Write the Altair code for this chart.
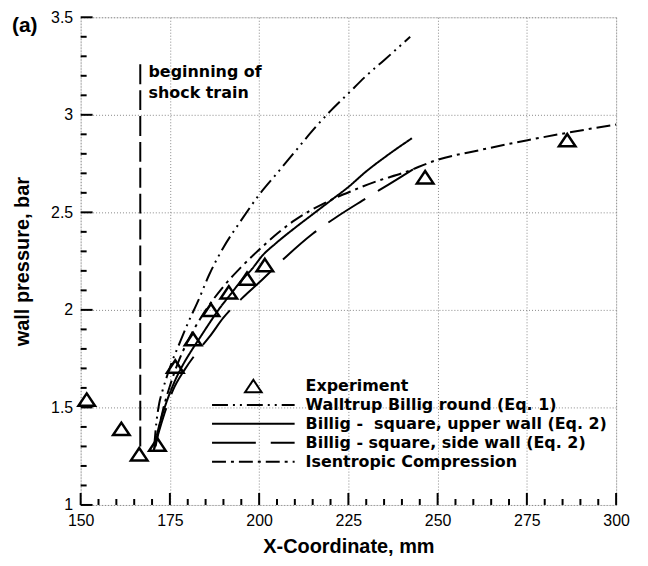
import altair as alt
import pandas as pd

# ---------------- data ----------------
series_names = [
    "Experiment",
    "Walltrup Billig round (Eq. 1)",
    "Billig - \u00a0square, upper wall (Eq. 2)",
    "Billig - square, side wall (Eq. 2)",
    "Isentropic Compression",
]

exp_x = [151.7, 161.4, 166.4, 171.5, 176.5, 181.5, 186.5, 191.5, 196.6, 201.6, 246.5, 286.3]
exp_y = [1.54, 1.39, 1.26, 1.31, 1.71, 1.85, 2.00, 2.09, 2.16, 2.23, 2.68, 2.87]

walltrup_x = [170.6, 171.2, 172.0, 173.0, 174.0, 175.5, 177.5, 180, 183, 186, 190, 195, 200,
              205, 210, 215, 220, 225, 230, 235, 242.3]
walltrup_y = [1.30, 1.42, 1.52, 1.59, 1.65, 1.73, 1.82, 1.93, 2.05, 2.18, 2.32, 2.46, 2.59,
              2.70, 2.81, 2.92, 3.02, 3.11, 3.20, 3.28, 3.40]

upper_x = [170.5, 171.5, 173, 174.5, 176.5, 178.7, 181, 183.5, 186, 189, 192, 195, 198, 201,
           204.6, 210, 215, 220, 225, 230, 235, 242.8]
upper_y = [1.28, 1.37, 1.47, 1.55, 1.64, 1.72, 1.79, 1.86, 1.93, 2.01, 2.08, 2.15, 2.21, 2.28,
           2.34, 2.42, 2.49, 2.56, 2.63, 2.71, 2.78, 2.88]

side_x = [170.5, 172, 173.5, 175.9, 179, 182.9, 186, 190, 195.8, 200, 207.4, 215, 222, 228.9, 236, 243.1]
side_y = [1.28, 1.38, 1.47, 1.59, 1.69, 1.79, 1.86, 1.96, 2.07, 2.14, 2.27, 2.39, 2.48, 2.56, 2.64, 2.72]

isen_x = [171, 172, 173.1, 175, 177.3, 180, 185.1, 190, 195, 201.9, 205, 210, 218.6, 226, 233, 240,
          250.1, 262, 275.2, 287, 300]
isen_y = [1.30, 1.40, 1.49, 1.61, 1.73, 1.84, 2.00, 2.12, 2.22, 2.34, 2.39, 2.46, 2.55, 2.61, 2.66,
          2.70, 2.77, 2.82, 2.87, 2.91, 2.95]

shock_x = [166.7]
shock_y0 = [1.30]
shock_y1 = [3.28]
shock_label = ["beginning of\nshock train"]
shock_label_x = [169.0]
shock_label_y = [3.194]

x_major = [150, 175, 200, 225, 250, 275, 300]
x_minor = [150 + 5 * i for i in range(31)]
y_major = [1.0, 1.5, 2.0, 2.5, 3.0, 3.5]
y_minor = [round(1.0 + 0.1 * i, 1) for i in range(26)]

W, H = 538, 490
X0, X1 = 150, 300
Y0, Y1 = 1.0, 3.5
FONT = "Liberation Sans"
BOLDFONT = "DejaVu Sans"

# ---------------- tables ----------------
exp_df = pd.DataFrame({"x": exp_x, "y": exp_y, "series": series_names[0]})
frames = []
for name, xs, ys in [
    (series_names[1], walltrup_x, walltrup_y),
    (series_names[2], upper_x, upper_y),
    (series_names[3], side_x, side_y),
    (series_names[4], isen_x, isen_y),
]:
    frames.append(pd.DataFrame({"x": xs, "y": ys, "series": name}))
lines_df = pd.concat(frames, ignore_index=True)
shock_df = pd.DataFrame({"x": shock_x, "y": shock_y0, "y2": shock_y1})
ann_df = pd.DataFrame({"x": shock_label_x, "y": shock_label_y, "t": shock_label})
tag_df = pd.DataFrame({"t": ["(a)"]})

# inward tick segments along the bottom and left frame (pixel lengths converted to data units)
pxx = (X1 - X0) / W
pxy = (Y1 - Y0) / H
tick_rows = []
for v in x_minor:
    L = 12 if v in x_major else 6
    tick_rows.append({"tx": v, "tx2": v, "ty": Y0, "ty2": Y0 + L * pxy})
for v in y_minor:
    L = 12 if v in y_major else 6
    tick_rows.append({"tx": X0, "tx2": X0 + L * pxx, "ty": v, "ty2": v})
ticks_df = pd.DataFrame(tick_rows)

xscale = alt.Scale(domain=[X0, X1], nice=False, zero=False)
yscale = alt.Scale(domain=[Y0, Y1], nice=False, zero=False)

shape_range = ["M0,-0.15L0.2,0.15L-0.2,0.15Z", "stroke", "stroke", "stroke", "stroke"]
dash_range = [[1, 0], [16, 5, 2, 5, 2, 5], [1, 0], [44, 15], [14, 5, 3, 5]]

legend = alt.Legend(
    title=None, orient="none", legendX=131, legendY=361, padding=0,
    symbolSize=6889, symbolStrokeWidth=2, symbolStrokeColor="black",
    symbolFillColor="transparent", clipHeight=19, rowPadding=0,
    labelFont=BOLDFONT, labelFontSize=16, labelFontWeight="bold", labelColor="black",
    labelOffset=10, labelLimit=500,
)

x_axis = alt.Axis(
    values=x_major, grid=True, gridDash=[1, 2], gridColor="#888", gridWidth=1,
    ticks=False, domain=False, labelFont=FONT, labelFontSize=16, labelColor="black",
    labelPadding=8, labelFlush=False, title="X-Coordinate, mm", titleFont=FONT,
    titleFontSize=20, titleFontWeight="bold", titleColor="black", titlePadding=8,
)
y_axis = alt.Axis(
    values=y_major, grid=True, gridDash=[1, 2], gridColor="#888", gridWidth=1,
    ticks=False, domain=False, labelFont=FONT, labelFontSize=16, labelColor="black",
    labelPadding=8, labelFlush=False, format="~g", title="wall pressure, bar",
    titleFont=FONT, titleFontSize=20, titleFontWeight="bold", titleColor="black",
    titlePadding=18,
)


def X(field):
    return alt.X(field, scale=xscale, axis=x_axis)


def Y(field):
    return alt.Y(field, scale=yscale, axis=y_axis)


points = alt.Chart(exp_df).mark_point(
    filled=False, size=6889, strokeWidth=2.5, color="black", opacity=1
).encode(
    x=X("x:Q"), y=Y("y:Q"),
    shape=alt.Shape("series:N", scale=alt.Scale(domain=series_names, range=shape_range), legend=legend),
)

lines = alt.Chart(lines_df).mark_line(
    color="black", strokeWidth=2, interpolate="monotone"
).encode(
    x=X("x:Q"), y=Y("y:Q"),
    strokeDash=alt.StrokeDash("series:N", scale=alt.Scale(domain=series_names, range=dash_range), legend=legend),
    detail="series:N",
)

shock = alt.Chart(shock_df).mark_rule(color="black", strokeWidth=2, strokeDash=[20, 6]).encode(
    x=X("x:Q"), y=Y("y:Q"), y2="y2:Q",
)

ann = alt.Chart(ann_df).mark_text(
    align="left", baseline="alphabetic", font=BOLDFONT, fontSize=16, fontWeight="bold",
    color="black", lineBreak="\n", lineHeight=21,
).encode(x=X("x:Q"), y=Y("y:Q"), text="t:N")

ticks = alt.Chart(ticks_df).mark_rule(color="black", strokeWidth=2, opacity=1).encode(
    x=X("tx:Q"), x2="tx2:Q", y=Y("ty:Q"), y2="ty2:Q")

tag = alt.Chart(tag_df).mark_text(
    align="left", baseline="alphabetic", font=FONT, fontSize=21, fontWeight="bold", color="black"
).encode(x=alt.value(-69), y=alt.value(15), text="t:N")

chart = alt.layer(lines, points, shock, ann, ticks, tag).properties(
    width=W, height=H, padding={"left": 4, "top": 0, "right": 10, "bottom": 5}
).configure_view(
    stroke="black", strokeWidth=2
).configure(background="white")

chart.save("out.html", embed_options={"renderer": "svg", "actions": False})
